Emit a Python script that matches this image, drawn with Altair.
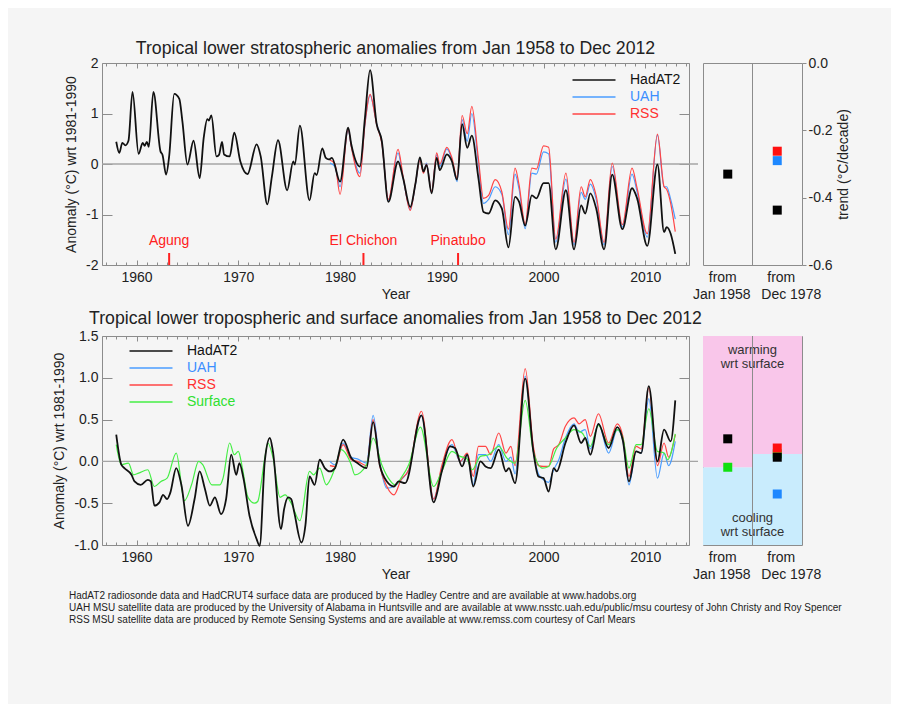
import altair as alt
import pandas as pd

# ---------------- data ----------------
# Upper panel: tropical lower stratosphere anomalies (degC wrt 1981-1990)
strat_had_years = [1958.0, 1958.3, 1958.6, 1958.9, 1959.2, 1959.6, 1960.2, 1960.6, 1960.8, 1961.0,
                   1961.2, 1961.65, 1962.35, 1962.55, 1962.9, 1963.2, 1963.7, 1964.2, 1964.5, 1965.0,
                   1965.6, 1966.2, 1966.6, 1966.95, 1967.1, 1967.35, 1967.85, 1968.1, 1968.4, 1968.6,
                   1969.15, 1969.6, 1970.2, 1970.9, 1971.8, 1972.2, 1972.85, 1973.3, 1973.9, 1974.8,
                   1975.4, 1975.55, 1976.05, 1977.0, 1977.5, 1977.7, 1978.25, 1978.6, 1978.9, 1979.2,
                   1980.0, 1980.8, 1981.1, 1981.95, 1982.45, 1982.95, 1983.6, 1984.1, 1984.75, 1985.7,
                   1986.2, 1986.9, 1987.4, 1987.85, 1988.2, 1988.5, 1989.0, 1989.5, 1989.8, 1990.5,
                   1991.0, 1991.5, 1992.0, 1992.5, 1992.95, 1993.6, 1994.1, 1994.6, 1995.25, 1995.9,
                   1996.55, 1997.2, 1997.6, 1998.2, 1998.85, 1999.3, 2000.0, 2000.5, 2001.2, 2002.2,
                   2003.0, 2003.7, 2004.1, 2004.6, 2005.2, 2005.95, 2006.75, 2007.75, 2008.7, 2009.2,
                   2010.2, 2011.2, 2011.85, 2012.1, 2012.5, 2012.95]
strat_had_vals = [0.44, 0.22, 0.42, 0.37, 0.46, 1.43, 0.20, 0.42, 0.36, 0.44,
                  0.34, 1.43, 0.25, 0.18, -0.21, 0.15, 1.39, 1.29, 0.85, -0.01,
                  0.46, -0.28, 0.52, 0.89, 0.86, 0.96, 0.15, 0.18, 0.44, 0.19,
                  0.15, 0.62, 0.05, -0.20, 0.39, 0.15, -0.80, -0.25, 0.47, -0.52,
                  0.05, -0.01, 0.76, -0.72, -0.18, -0.22, 0.31, 0.12, 0.09, 0.12,
                  -0.35, 0.72, 0.39, -0.05, 0.92, 1.86, 0.79, 0.46, -0.75, 0.05,
                  -0.28, -0.85, -0.40, 0.13, -0.15, -0.02, -0.58, 0.12, -0.12, 0.19,
                  0.05, -0.31, 0.79, 0.32, 0.56, -0.28, -0.95, -0.98, -0.72, -0.88,
                  -1.65, -0.65, -0.75, -1.22, -0.62, -0.68, -0.38, -0.38, -1.69, -0.52,
                  -1.69, -0.82, -0.98, -0.58, -0.90, -1.69, -0.21, -1.29, -0.48, -0.68,
                  -1.62, -0.01, -1.35, -1.25, -1.38, -1.78]
sat_years = [1979.0, 1979.5, 1980.0, 1980.8, 1981.1, 1981.95, 1982.45, 1982.95, 1983.6, 1984.1,
             1984.75, 1985.7, 1986.2, 1986.9, 1987.4, 1987.85, 1988.2, 1988.5, 1989.0, 1989.5,
             1989.8, 1990.5, 1991.0, 1991.5, 1992.0, 1992.5, 1992.95, 1993.6, 1994.1, 1994.6,
             1995.25, 1995.9, 1996.55, 1997.2, 1997.6, 1998.2, 1998.85, 1999.3, 2000.0, 2000.5,
             2001.2, 2002.2, 2003.0, 2003.7, 2004.1, 2004.6, 2005.2, 2005.95, 2006.75, 2007.75,
             2008.7, 2009.2, 2010.2, 2011.2, 2011.85, 2012.1, 2012.5, 2012.95]
strat_rss_vals = [0.08, 0.00, -0.60, 0.70, 0.35, -0.25, 0.80, 1.38, 0.78, 0.42,
                  -0.70, 0.29, -0.25, -0.92, -0.40, 0.07, -0.18, 0.00, -0.55, 0.22,
                  0.00, 0.33, 0.12, -0.28, 0.96, 0.60, 1.14, 0.10, -0.68, -0.62,
                  -0.31, -0.55, -1.29, -0.08, -0.42, -1.19, -0.08, -0.10, 0.36, 0.33,
                  -1.49, -0.18, -1.55, -0.45, -0.65, -0.31, -0.65, -1.55, 0.02, -1.20,
                  -0.08, -0.48, -1.38, 0.59, -0.45, -0.50, -0.78, -1.34]
strat_uah_vals = [0.02, -0.05, -0.45, 0.68, 0.36, -0.18, 0.80, 1.36, 0.80, 0.44,
                  -0.72, 0.22, -0.28, -0.90, -0.42, 0.10, -0.16, 0.02, -0.56, 0.18,
                  -0.05, 0.30, 0.08, -0.35, 0.88, 0.45, 1.00, 0.00, -0.78, -0.70,
                  -0.45, -0.60, -1.40, -0.20, -0.50, -1.28, -0.18, -0.20, 0.24, 0.20,
                  -1.55, -0.30, -1.60, -0.56, -0.70, -0.40, -0.72, -1.60, -0.05, -1.25,
                  -0.20, -0.55, -1.45, 0.57, -0.45, -0.45, -0.70, -1.09]

# Lower panel: tropical lower troposphere and surface anomalies
trop_had_years = [1958.0, 1958.5, 1958.8, 1959.5, 1959.8, 1960.4, 1961.1, 1961.4, 1961.75, 1962.25,
                  1962.6, 1963.0, 1963.3, 1963.9, 1964.4, 1965.05, 1965.7, 1966.2, 1966.7, 1967.2,
                  1967.7, 1968.3, 1968.8, 1969.3, 1969.8, 1970.1, 1970.5, 1971.1, 1971.8, 1972.1,
                  1972.6, 1973.1, 1973.4, 1974.2, 1974.5, 1974.9, 1975.2, 1975.5, 1976.2, 1976.6,
                  1977.0, 1977.5, 1978.0, 1978.5, 1979.0, 1979.5, 1980.3, 1981.1, 1981.7, 1982.6,
                  1983.25, 1983.9, 1984.6, 1985.3, 1985.75, 1986.4, 1988.0, 1989.2, 1990.0, 1990.8,
                  1991.3, 1992.0, 1992.5, 1993.1, 1993.8, 1994.3, 1994.8, 1995.6, 1996.3, 1996.6,
                  1997.2, 1998.2, 1999.0, 1999.5, 2000.0, 2000.5, 2001.0, 2001.3, 2002.15, 2003.0,
                  2003.7, 2004.1, 2004.6, 2005.4, 2006.4, 2007.25, 2007.8, 2008.4, 2009.1, 2009.6,
                  2010.35, 2011.2, 2011.85, 2012.5, 2012.95]
trop_had_vals = [0.32, -0.04, -0.08, -0.16, -0.24, -0.28, -0.22, -0.24, -0.53, -0.49,
                 -0.40, -0.45, -0.38, -0.08, -0.28, -0.77, -0.45, -0.12, -0.32, -0.53,
                 -0.43, -0.63, -0.45, 0.08, -0.16, -0.02, -0.20, -0.65, -0.93, -1.01,
                 0.00, 0.28, 0.12, -0.81, -0.57, -0.43, -0.45, -0.61, -0.97, -0.76,
                 -0.18, -0.28, 0.02, -0.08, -0.12, -0.08, 0.26, 0.04, -0.02, -0.08,
                 0.47, -0.04, -0.24, -0.30, -0.24, -0.26, 0.55, -0.49, -0.12, 0.18,
                 0.16, -0.06, 0.08, -0.30, 0.00, -0.06, -0.08, 0.14, -0.12, -0.08,
                 -0.26, 0.99, 0.12, -0.18, -0.20, -0.36, -0.08, -0.12, 0.22, 0.43,
                 0.22, 0.28, 0.08, 0.45, 0.16, 0.41, 0.25, -0.24, 0.12, 0.10,
                 0.90, 0.00, 0.38, 0.24, 0.73]
trop_sfc_years = [1958.0, 1958.5, 1959.2, 1959.7, 1960.2, 1961.1, 1961.75, 1962.4, 1963.0, 1963.9,
                  1964.7, 1965.4, 1966.1, 1966.5, 1967.4, 1968.2, 1968.5, 1969.15, 1969.6, 1970.0,
                  1970.4, 1970.95, 1971.6, 1971.9, 1972.6, 1972.9, 1973.4, 1974.1, 1974.6, 1975.2,
                  1976.05, 1977.0, 1977.4, 1978.0, 1978.65, 1979.5, 1980.1, 1981.1, 1981.45, 1982.6,
                  1983.25, 1984.1, 1984.75, 1985.4, 1986.1, 1986.75, 1987.9, 1989.2, 1990.0, 1991.0,
                  1991.8, 1992.4, 1993.0, 1993.8, 1994.6, 1995.6, 1996.4, 1997.2, 1998.2, 1999.0,
                  1999.9, 2000.5, 2001.3, 2002.15, 2003.0, 2003.8, 2004.6, 2005.4, 2006.4, 2007.25,
                  2007.8, 2008.4, 2009.1, 2009.6, 2010.35, 2011.2, 2011.85, 2012.2, 2012.95]
trop_sfc_vals = [0.20, -0.04, -0.02, -0.16, -0.14, -0.10, -0.30, -0.24, -0.20, 0.10,
                 -0.47, -0.28, 0.00, -0.04, -0.28, -0.28, -0.20, 0.22, 0.08, 0.12,
                 -0.08, -0.43, -0.50, -0.48, 0.04, 0.22, 0.05, -0.43, -0.40, -0.50,
                 -0.71, -0.12, -0.16, -0.08, -0.28, -0.08, 0.14, -0.04, -0.16, -0.04,
                 0.28, -0.04, -0.20, -0.28, -0.18, -0.04, 0.41, -0.30, -0.12, 0.12,
                 0.06, 0.04, -0.10, 0.06, 0.08, 0.18, 0.04, -0.02, 0.73, 0.12,
                 -0.08, -0.06, 0.16, 0.28, 0.38, 0.34, 0.18, 0.43, 0.20, 0.38,
                 0.28, -0.08, 0.20, 0.20, 0.63, 0.12, 0.10, 0.02, 0.33]
trop_sat_years = [1979.0, 1979.5, 1980.3, 1981.1, 1981.7, 1982.6, 1983.25, 1983.9, 1984.6, 1985.3,
                  1986.0, 1986.75, 1988.0, 1989.2, 1990.0, 1991.0, 1991.8, 1992.5, 1993.1, 1993.6,
                  1994.3, 1994.8, 1995.6, 1996.3, 1996.8, 1997.2, 1998.2, 1999.0, 1999.5, 2000.0,
                  2000.5, 2001.0, 2001.5, 2002.15, 2003.0, 2003.5, 2004.1, 2004.6, 2005.4, 2006.4,
                  2007.25, 2007.8, 2008.4, 2009.1, 2009.6, 2010.35, 2011.2, 2011.85, 2012.3, 2012.95]
trop_rss_vals = [-0.05, -0.06, 0.20, 0.02, 0.00, -0.05, 0.50, -0.05, -0.30, -0.40,
                 -0.22, -0.10, 0.60, -0.45, -0.05, 0.26, 0.00, 0.10, -0.18, 0.18,
                 0.18, 0.08, 0.34, 0.10, 0.18, -0.05, 1.11, 0.18, -0.05, -0.06,
                 -0.06, 0.15, 0.20, 0.42, 0.52, 0.45, 0.50, 0.30, 0.57, 0.22,
                 0.45, 0.30, -0.18, 0.18, 0.15, 0.88, -0.05, 0.22, 0.05, 0.32]
trop_uah_vals = [0.00, -0.04, 0.22, 0.05, 0.03, -0.02, 0.55, -0.02, -0.32, -0.30,
                 -0.22, -0.10, 0.55, -0.45, -0.08, 0.20, 0.00, 0.08, -0.28, 0.08,
                 0.08, 0.00, 0.20, 0.00, 0.05, -0.15, 1.02, 0.12, -0.15, -0.22,
                 -0.25, -0.10, 0.02, 0.28, 0.45, 0.35, 0.38, 0.15, 0.45, 0.10,
                 0.38, 0.25, -0.28, 0.12, 0.10, 0.75, -0.20, 0.10, -0.05, 0.24]

volcano_names = ["Agung", "El Chichon", "Pinatubo"]
volcano_years = [1963.2, 1982.3, 1991.6]

periods = ["from Jan 1958", "from Dec 1978"]
strat_trend_period = ["from Jan 1958", "from Dec 1978", "from Dec 1978", "from Dec 1978"]
strat_trend_series = ["HadAT2", "UAH", "RSS", "HadAT2"]
strat_trend_vals = [-0.330, -0.290, -0.262, -0.437]
trop_trend_period = ["from Jan 1958", "from Jan 1958", "from Dec 1978", "from Dec 1978", "from Dec 1978", "from Dec 1978"]
trop_trend_series = ["Surface", "HadAT2", "Surface", "HadAT2", "UAH", "RSS"]
trop_trend_vals = [0.093, 0.127, 0.109, 0.105, 0.061, 0.116]
surface_trend = [0.093, 0.109]

footer_lines = [
    "HadAT2 radiosonde data and HadCRUT4 surface data are produced by the Hadley Centre and are available at www.hadobs.org",
    "UAH MSU satellite data are produced by the University of  Alabama in Huntsville and are available at www.nsstc.uah.edu/public/msu courtesy of John Christy and Roy Spencer",
    "RSS MSU satellite data are produced by Remote Sensing Systems and are available at www.remss.com courtesy of Carl Mears",
]

# ---------------- styling ----------------
FONT = "Liberation Sans"
BG = "#f5f5f5"
FRAME = "#8c8c8c"
TXT = "#222222"
series_names = ["HadAT2", "UAH", "RSS", "Surface"]
line_colors = ["#111111", "#4a9dff", "#ff4545", "#45ee45"]
square_colors = {"HadAT2": "#000000", "UAH": "#1e88ff", "RSS": "#ff1010", "Surface": "#10e010"}
label_color_expr = ("datum.value === 'UAH' ? '#3b8eff' : datum.value === 'RSS' ? '#ff3030' : "
                    "datum.value === 'Surface' ? '#30e030' : '#111111'")

X_DOMAIN = [1956.6, 2014.3]
MAIN_W, TREND_W = 587, 99
TOP_H, BOT_H = 202, 209
MINUS = "replace(datum.label, '\u2212', '-')"
decades = [1960, 1970, 1980, 1990, 2000, 2010]
years = list(range(1957, 2015))


def long_df(parts):
    rows = []
    for name, ys, vs in parts:
        for y, v in zip(ys, vs):
            rows.append({"series": name, "year": y, "val": v})
    return pd.DataFrame(rows)


def main_panel(colored, black, ydom, yvals, yfmt, height, legend_order, leg_x, leg_y, title, extras):
    xs = alt.Scale(domain=X_DOMAIN, nice=False, zero=False)
    ys = alt.Scale(domain=ydom, nice=False, zero=False)
    cscale = alt.Scale(domain=legend_order, range=[line_colors[series_names.index(s)] for s in legend_order])
    x_main = alt.X("year:Q", scale=xs, axis=alt.Axis(orient="bottom", values=decades, format="d", tickSize=5,
                                                      offset=-5, labelPadding=5, title="Year", titlePadding=3,
                                                      labelFlush=False))
    y_main = alt.Y("val:Q", scale=ys, axis=alt.Axis(orient="left", values=yvals, format=yfmt, labelExpr=MINUS,
                                                     tickSize=10, offset=-10, labelPadding=4,
                                                     title="Anomaly (°C) wrt 1981-1990", titlePadding=7))
    legend = alt.Legend(orient="none", legendX=leg_x, legendY=leg_y, title=None, padding=0,
                        symbolType="M-1.1,0H7.5", symbolSize=100, symbolStrokeWidth=1.5,
                        symbolFillColor="transparent", labelOffset=45, labelFontSize=14, labelFont=FONT,
                        rowPadding=3, labelColor=alt.ExprRef(expr=label_color_expr))
    zero = alt.Chart(pd.DataFrame({"val": [0.0]})).mark_rule(color="#a5a5a5", strokeWidth=1.3).encode(
        y=alt.Y("val:Q", scale=ys, axis=None), x=alt.value(0), x2=alt.value(MAIN_W + 9))
    col_lines = alt.Chart(colored).mark_line(interpolate="monotone", strokeWidth=1.2).encode(
        x=x_main, y=y_main, color=alt.Color("series:N", scale=cscale, legend=legend))
    blk_lines = alt.Chart(black).mark_line(interpolate="monotone", strokeWidth=1.8).encode(
        x=alt.X("year:Q", scale=xs, axis=None), y=alt.Y("val:Q", scale=ys, axis=None),
        color=alt.Color("series:N", scale=cscale, legend=None))
    carrier = pd.DataFrame({"year": [X_DOMAIN[0]], "val": [ydom[0]]})

    def carry(xaxis, yaxis):
        return alt.Chart(carrier).mark_point(opacity=0).encode(
            x=alt.X("year:Q", scale=xs, axis=xaxis), y=alt.Y("val:Q", scale=ys, axis=yaxis))

    c1 = carry(alt.Axis(orient="bottom", values=years, tickSize=3, offset=-3, labels=False, title=None),
               alt.Axis(orient="right", values=yvals, tickSize=10, offset=-10, labels=False, title=None))
    c2 = carry(alt.Axis(orient="top", values=decades, tickSize=5, offset=-5, labels=False, title=None), None)
    c3 = carry(alt.Axis(orient="top", values=years, tickSize=3, offset=-3, labels=False, title=None), None)
    layers = [zero, col_lines, blk_lines] + [e(xs) for e in extras] + [c1, c2, c3]
    return alt.layer(*layers).resolve_axis(x="independent", y="independent").properties(
        width=MAIN_W, height=height, title=title)


def volcano_layers():
    df = pd.DataFrame({"name": volcano_names, "year": volcano_years})

    def text(xs):
        return alt.Chart(df).mark_text(color="#ff2020", fontSize=14, font=FONT).encode(
            x=alt.X("year:Q", scale=xs, axis=None), y=alt.value(TOP_H - 24), text="name:N")

    def tick(xs):
        return alt.Chart(df).mark_rule(color="#ff2020", strokeWidth=2).encode(
            x=alt.X("year:Q", scale=xs, axis=None), y=alt.value(TOP_H - 12), y2=alt.value(TOP_H))
    return [text, tick]


def footer_layer(xs):
    return alt.Chart(pd.DataFrame({"k": [0]})).mark_text(
        text=footer_lines, align="left", baseline="top", fontSize=10, lineHeight=12, color=TXT, font=FONT
    ).encode(x=alt.value(-33), y=alt.value(BOT_H + 46))


def trend_panel(period, series, vals, ydom, yvals, yfmt, height, with_bg):
    xs = alt.Scale(domain=periods, paddingInner=0, paddingOuter=0)
    ys = alt.Scale(domain=ydom, nice=False, zero=False)
    layers = []
    if with_bg:
        bg = []
        for p, s in zip(periods, surface_trend):
            bg.append({"period": p, "lo": ydom[0], "hi": s, "c": "#c9ecfd"})
            bg.append({"period": p, "lo": s, "hi": ydom[1], "c": "#f9c6ea"})
        layers.append(alt.Chart(pd.DataFrame(bg)).mark_rect().encode(
            x=alt.X("period:N", scale=xs, axis=None), y=alt.Y("lo:Q", scale=ys, axis=None), y2="hi:Q",
            color=alt.Color("c:N", scale=None)))
        layers.append(alt.Chart(pd.DataFrame({"period": [periods[1]]})).mark_text(
            text=["warming", "wrt surface"], fontSize=13, lineHeight=14, color="#333333", font=FONT,
            baseline="middle").encode(x=alt.X("period:N", scale=xs, bandPosition=0, axis=None),
                                      y=alt.value(14)))
        layers.append(alt.Chart(pd.DataFrame({"period": [periods[1]]})).mark_text(
            text=["cooling", "wrt surface"], fontSize=13, lineHeight=14, color="#333333", font=FONT,
            baseline="middle").encode(x=alt.X("period:N", scale=xs, bandPosition=0, axis=None),
                                      y=alt.value(height - 27)))
    layers.append(alt.Chart(pd.DataFrame({"period": [periods[1]]})).mark_rule(color=FRAME, strokeWidth=1).encode(
        x=alt.X("period:N", scale=xs, bandPosition=0, axis=None)))
    tdf = pd.DataFrame({"period": period, "series": series, "val": vals,
                        "c": [square_colors[s] for s in series]})
    layers.append(alt.Chart(tdf).mark_square(size=81, opacity=1).encode(
        x=alt.X("period:N", scale=xs, axis=alt.Axis(orient="bottom", labels=False, tickSize=5, offset=-5,
                                                    title=None)),
        y=alt.Y("val:Q", scale=ys, axis=alt.Axis(orient="right", values=yvals, format=yfmt, labelExpr=MINUS,
                                                 tickSize=4, labelPadding=2, title="trend (°C/decade)",
                                                 titleAngle=270, titleBaseline="top", titlePadding=4)),
        color=alt.Color("c:N", scale=None)))
    # period labels under the panel ("from" / start month), nudged as in the original
    lab = pd.DataFrame({"period": periods,
                        "l1": [p.split(" ", 1)[0] for p in periods],
                        "l2": [p.split(" ", 1)[1] for p in periods]})
    for i, (d1, d2) in enumerate([(-5, -6), (4, 14)]):
        sub = lab.iloc[[i]]
        layers.append(alt.Chart(sub).mark_text(fontSize=14, font=FONT, color=TXT, baseline="middle", dx=d1).encode(
            x=alt.X("period:N", scale=xs, axis=None), y=alt.value(height + 13), text="l1:N"))
        layers.append(alt.Chart(sub).mark_text(fontSize=14, font=FONT, color=TXT, baseline="middle", dx=d2).encode(
            x=alt.X("period:N", scale=xs, axis=None), y=alt.value(height + 30), text="l2:N"))
    return alt.layer(*layers).properties(width=TREND_W, height=height)


strat_colored = long_df([("UAH", sat_years, strat_uah_vals), ("RSS", sat_years, strat_rss_vals)])
strat_black = long_df([("HadAT2", strat_had_years, strat_had_vals)])
trop_colored = long_df([("UAH", trop_sat_years, trop_uah_vals), ("RSS", trop_sat_years, trop_rss_vals),
                        ("Surface", trop_sfc_years, trop_sfc_vals)])
trop_black = long_df([("HadAT2", trop_had_years, trop_had_vals)])

top_main = main_panel(strat_colored, strat_black, [-2, 2], [-2, -1, 0, 1, 2], "d", TOP_H,
                      ["HadAT2", "UAH", "RSS"], 469, 10,
                      "Tropical lower stratospheric anomalies from Jan 1958 to Dec 2012", volcano_layers())
bot_main = main_panel(trop_colored, trop_black, [-1.0, 1.5], [-1.0, -0.5, 0.0, 0.5, 1.0, 1.5], ".1f", BOT_H,
                      ["HadAT2", "UAH", "RSS", "Surface"], 26, 8,
                      alt.Title("Tropical lower tropospheric and surface anomalies from Jan 1958 to Dec 2012", dy=3),
                      [footer_layer])
top_trend = trend_panel(strat_trend_period, strat_trend_series, strat_trend_vals, [-0.6, 0.0],
                        [0.0, -0.2, -0.4, -0.6], ".1f", TOP_H, False)
bot_trend = trend_panel(trop_trend_period, trop_trend_series, trop_trend_vals, [0.0, 0.25],
                        [0.0, 0.05, 0.10, 0.15, 0.20, 0.25], ".2f", BOT_H, True)

chart = alt.concat(top_main, top_trend, bot_main, bot_trend, columns=2,
                   spacing={"row": 71, "column": 14}, bounds="flush").resolve_scale(
    color="independent").properties(
    padding={"left": 44, "top": 31, "right": 40, "bottom": 78}
).configure(background=BG, font=FONT).configure_view(stroke=FRAME, strokeWidth=1).configure_axis(
    labelFont=FONT, titleFont=FONT, labelFontSize=14, titleFontSize=14, labelColor=TXT, titleColor=TXT,
    tickColor=FRAME, domain=False, grid=False, titleFontWeight="normal"
).configure_title(font=FONT, fontSize=17.7, fontWeight="normal", color=TXT, anchor="middle", offset=0, dy=6)

chart.save("out.html", embed_options={"renderer": "svg", "actions": False})
